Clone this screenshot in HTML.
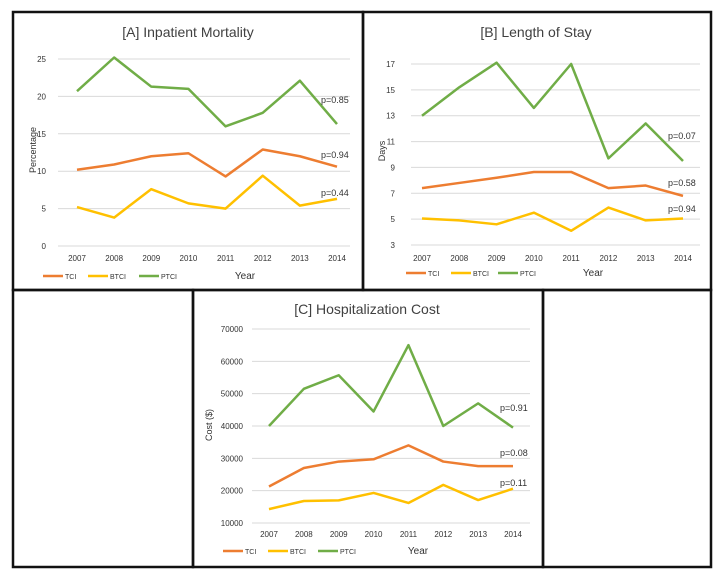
<!DOCTYPE html>
<html><head><meta charset="utf-8"><style>
body{margin:0;background:#fff;}
svg{display:block;font-family:"Liberation Sans",sans-serif;}
</style></head><body>
<svg id="s" width="726" height="582"></svg>
<script>
const years=["2007","2008","2009","2010","2011","2012","2013","2014"];
const aTCI=[10.2,10.9,12,12.4,9.3,12.9,12,10.6];
const aBTCI=[5.2,3.8,7.6,5.7,5,9.4,5.4,6.3];
const aPTCI=[20.7,25.2,21.3,21,16,17.8,22.1,16.3];
const aTicks=[0,5,10,15,20,25];
const aP=["p=0.94","p=0.44","p=0.85"];
const bTCI=[7.4,7.8,8.2,8.65,8.65,7.4,7.6,6.8];
const bBTCI=[5.05,4.9,4.6,5.5,4.1,5.9,4.9,5.05];
const bPTCI=[13,15.2,17.1,13.6,17,9.7,12.4,9.5];
const bTicks=[3,5,7,9,11,13,15,17];
const bP=["p=0.58","p=0.94","p=0.07"];
const cTCI=[21300,27000,29000,29700,34000,29000,27600,27600];
const cBTCI=[14300,16800,17000,19300,16200,21800,17100,20600];
const cPTCI=[40000,51500,55700,44500,65000,40000,47000,39500];
const cTicks=[10000,20000,30000,40000,50000,60000,70000];
const cP=["p=0.08","p=0.11","p=0.91"];

const NS="http://www.w3.org/2000/svg";
const svg=document.getElementById('s');
function mk(t,a,p){const e=document.createElementNS(NS,t);for(const k in a)e.setAttribute(k,a[k]);(p||svg).appendChild(e);return e;}
function txt(x,y,s,size,anchor,p,fill){const e=mk('text',{x:x,y:y,'font-size':size,'text-anchor':anchor||'middle',fill:fill||'#333'},p);e.textContent=s;return e;}

const boxes=[[13,12,350,278,'panel-a-frame'],[363,12,348,278,'panel-b-frame'],[13,290,180,277,'empty-left-frame'],[193,290,350,277,'panel-c-frame'],[543,290,168,277,'empty-right-frame']];
boxes.forEach(b=>{const r=mk('rect',{x:b[0],y:b[1],width:b[2],height:b[3],fill:'none',stroke:'#111','stroke-width':2.5});

});

const colors={TCI:'#ED7D31',BTCI:'#FFC000',PTCI:'#70AD47'};
function chart(cfg){
  const g=mk('g',{});
  
  
  const ymin=cfg.ticks[0],ymax=cfg.ticks[cfg.ticks.length-1];
  const Y=v=>cfg.y0+(v-ymin)/(ymax-ymin)*(cfg.y1-cfg.y0);
  const X=i=>cfg.x0+i*(cfg.x1-cfg.x0)/(years.length-1);
  const t=txt(cfg.tx,cfg.ty,cfg.title,14,'middle',g,'#404040');
  
  
  cfg.ticks.forEach(v=>{
    const l=mk('line',{x1:cfg.gx0,x2:cfg.gx1,y1:Y(v),y2:Y(v),stroke:'#d9d9d9','stroke-width':1},g);
    
    
    const tl=txt(cfg.lx,Y(v)+3,String(v),8,'end',g);
    
    
  });
  years.forEach((yr,i)=>{const e=txt(X(i),cfg.yl,yr,8,'middle',g);
    
    });
  const yt=txt(0,0,cfg.ylab,9,'middle',g);
  yt.setAttribute('transform',`translate(${cfg.ylx},${cfg.yly}) rotate(-90)`);
  
  
  [['TCI',cfg.tci],['BTCI',cfg.btci],['PTCI',cfg.ptci]].forEach(([k,arr])=>{
    const pl=mk('polyline',{points:arr.map((v,i)=>X(i)+','+Y(v)).join(' '),fill:'none',stroke:colors[k],'stroke-width':2.5,'stroke-linejoin':'round'},g);
    
    
  });
  cfg.p.forEach((s,i)=>{const e=txt(cfg.px,cfg.py[i],s,9,'start',g);
    
    });
  cfg.leg.forEach((lx,i)=>{const k=['TCI','BTCI','PTCI'][i];
    const l=mk('line',{x1:lx,x2:lx+20,y1:cfg.legy,y2:cfg.legy,stroke:colors[k],'stroke-width':2.5},g);
    
    
    const e=txt(lx+22,cfg.legy+3,k,7,'start',g);
    
    });
  const xt=txt(cfg.yearx,cfg.legy+3,'Year',10,'middle',g);
  
  
}
chart({name:'chart-inpatient-mortality',title:'[A] Inpatient Mortality',tx:188,ty:37,ticks:aTicks,y0:246,y1:59,x0:77,x1:337,gx0:58,gx1:350,lx:46,yl:261,ylab:'Percentage',ylx:36,yly:150,tci:aTCI,btci:aBTCI,ptci:aPTCI,p:aP,px:321,py:[158,196,103],leg:[43,88,139],legy:276,yearx:245});
chart({name:'chart-length-of-stay',title:'[B] Length of Stay',tx:536,ty:37,ticks:bTicks,y0:245,y1:64,x0:422,x1:683,gx0:411,gx1:700,lx:395,yl:261,ylab:'Days',ylx:385,yly:151,tci:bTCI,btci:bBTCI,ptci:bPTCI,p:bP,px:668,py:[186,212,139],leg:[406,451,498],legy:273,yearx:593});
chart({name:'chart-hospitalization-cost',title:'[C] Hospitalization Cost',tx:367,ty:314,ticks:cTicks,y0:523,y1:329,x0:269,x1:513,gx0:252,gx1:530,lx:243,yl:537,ylab:'Cost ($)',ylx:212,yly:425,tci:cTCI,btci:cBTCI,ptci:cPTCI,p:cP,px:500,py:[456,486,411],leg:[223,268,318],legy:551,yearx:418});
</script>
</body></html>
